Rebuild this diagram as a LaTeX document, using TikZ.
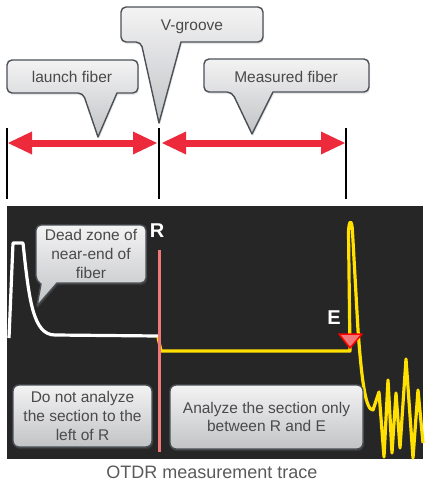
\documentclass[tikz,border=0pt]{standalone}
\usepackage{fontspec}
\setmainfont{Liberation Sans}
\usetikzlibrary{arrows.meta,shadows}
\definecolor{panelbg}{HTML}{262626}
\definecolor{boxedge}{HTML}{4B5056}
\definecolor{boxtop}{HTML}{F3F3F4}
\definecolor{boxbot}{HTML}{C2C3C5}
\definecolor{boxtext}{HTML}{4A4A4A}
\definecolor{captext}{HTML}{5A5A5A}
\definecolor{arrowred}{HTML}{EC2A3B}
\definecolor{traceyel}{HTML}{FFE000}
\definecolor{refline}{HTML}{F07878}
\tikzset{
  tick/.style       = {black, line width=2pt},
  span/.style       = {draw=arrowred, line width=7pt,
                       {Triangle[length=24pt,width=23pt,line width=0pt]}-{Triangle[length=24pt,width=23pt,line width=0pt]}},
  bubble/.style     = {draw=boxedge, line width=1.4pt, line join=round,
                       top color=boxtop, bottom color=boxbot,
                       drop shadow={opacity=.18, shadow xshift=1pt, shadow yshift=-2pt}},
  bubbletext/.style = {text=boxtext, align=center,
                       font=\fontsize{15.5}{18.8}\selectfont},
  note/.style       = {bubble, bubbletext, rounded corners=6pt},
  tag/.style        = {text=white, font=\fontsize{20}{20}\selectfont\bfseries},
  trace/.style      = {line width=3.2pt, line join=round}
}
\begin{document}
\begin{tikzpicture}[x=1pt, y=-1pt]
  \useasboundingbox (0,0) rectangle (432,485);

  % fibre sections
  \foreach \x in {7,159,346}
    \draw[tick] (\x,128) -- (\x,199);
  \coordinate (l1) at (8,143);   \coordinate (l2) at (157,143);
  \coordinate (m1) at (162,143); \coordinate (m2) at (345,143);
  \draw[span] (l1) -- (l2);
  \draw[span] (m1) -- (m2);

  \path[bubble] (117,93) [rounded corners=5pt] -- (138,93) -- (138,60) -- (7,60)
    -- (7,93) -- (83,93) [sharp corners] -- (98,137) -- cycle;
  \node[bubbletext, anchor=base] (launch) at (72,82.5) {launch fiber};

  \path[bubble] (181,42) [rounded corners=5pt] -- (263,42) -- (263,7) -- (121,7)
    -- (121,42) -- (141,42) [sharp corners] -- (159,123) -- cycle;
  \node[bubbletext, anchor=base] (vgroove) at (192,30) {V-groove};

  \path[bubble] (273,92) [rounded corners=5pt] -- (369,92) -- (369,59) -- (204,59)
    -- (204,92) -- (232,92) [sharp corners] -- (252,134) -- cycle;
  \node[bubbletext, anchor=base] (measured) at (286,82) {Measured fiber};

  % trace window
  \fill[panelbg] (7,206) rectangle (423,459);
  \draw[trace, white] (9,338) -- (13,243) -- (23,243)
    .. controls (29,300) and (33,335) .. (55,335) -- (158,336);
  \draw[trace, traceyel] (158,337) -- (161,351) -- (350,351) -- (348.5,232)
    .. controls (349,219) and (352,219) .. (352.5,232) -- (358,330)
    .. controls (362,385) and (366,410) .. (373,410)
    -- (379,392) -- (384,457) -- (388,380) -- (392,453) -- (396,393)
    -- (400,448) -- (406,359) -- (413,458) -- (418,390) -- (423,443);
  \draw[refline, line width=3pt] (159,250) -- (159,452);
  \filldraw[fill=refline, draw=red, line width=1.5pt, line join=round]
    (339,334) -- (362,334) -- (350,348) -- cycle;
  \node[tag] (R) at (157,231) {R};
  \node[tag] (E) at (334,318) {E};

  \path[bubble] (57,283) [rounded corners=5pt] -- (146,283) -- (146,225) -- (36,225)
    -- (36,281) [sharp corners] -- (41,284) -- (37,306) -- cycle;
  \node[bubbletext] (deadzone) at (91,254) {Dead zone of\\near-end of\\fiber};

  \node[note, minimum width=139pt, minimum height=62pt] (skip) at (82.5,416)
    {Do not analyze\\the section to the\\left of R};
  \node[note, minimum width=193pt, minimum height=64pt] (analyze) at (266.5,417)
    {Analyze the section only\\between R and E};

  \node[text=captext, font=\fontsize{18}{20}\selectfont] (caption) at (212,472)
    {OTDR measurement trace};
\end{tikzpicture}
\end{document}
